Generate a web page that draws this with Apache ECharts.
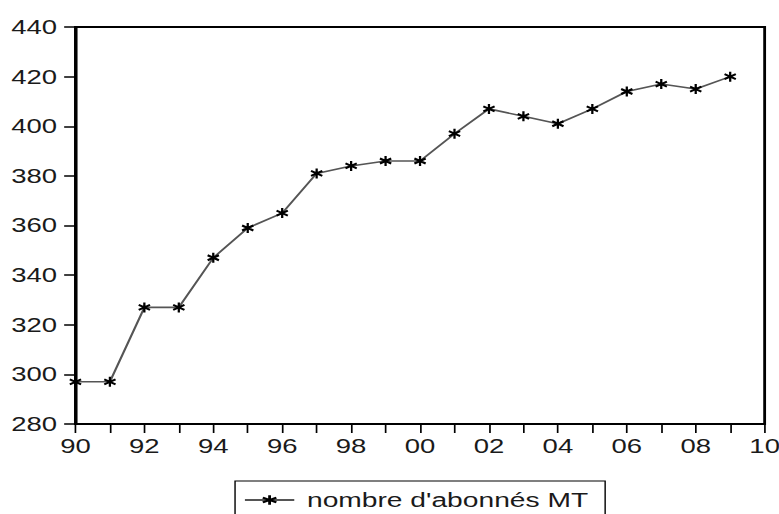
<!DOCTYPE html>
<html>
<head>
<meta charset="utf-8">
<script src="https://cdn.jsdelivr.net/npm/echarts@6/dist/echarts.min.js"></script>
<style>
html,body{margin:0;padding:0;background:#fff;overflow:hidden;width:779px;height:514px;}
#chart{width:560px;height:514px;transform:scaleX(1.41);transform-origin:0 0;}
</style>
</head>
<body>
<div id="chart"></div>
<script>
var years = [1990,1991,1992,1993,1994,1995,1996,1997,1998,1999,2000,2001,2002,2003,2004,2005,2006,2007,2008,2009];
var abonnes = [297,297,327,327,347,359,365,381,384,386,386,397,407,404,401,407,414,417,415,420];
var seriesName = "nombre d'abonnés MT";

var FONT = 'Liberation Sans, Arial, Helvetica, sans-serif';
var asterisk = 'path://M0,-5L0,5M-4.33,-2.5L4.33,2.5M-4.33,2.5L4.33,-2.5';
var chart = echarts.init(document.getElementById('chart'), null, {renderer: 'svg'});
chart.setOption({
  animation: false,
  backgroundColor: '#fff',
  grid: {left: 53.5, right: 17.7, top: 27, bottom: 90, show: true, borderColor: '#000', borderWidth: 2, backgroundColor: 'transparent'},
  legend: {
    data: [seriesName],
    left: 166.7, top: 481,
    borderColor: '#000', borderWidth: 1,
    padding: [9, 12, 20, 6],
    itemWidth: 35, itemHeight: 12,
    textStyle: {fontFamily: FONT, fontSize: 20, color: '#1a1a1a', padding: [0,0,0,4]}
  },
  xAxis: {
    type: 'value', min: 1990, max: 2010, interval: 1,
    axisLine: {show: true, lineStyle: {color: '#000', width: 2}},
    axisTick: {show: true, length: 9, lineStyle: {color: '#000', width: 1.2}},
    splitLine: {show: false},
    axisLabel: {
      margin: 12,
      fontFamily: FONT, fontSize: 19.5, color: '#1a1a1a',
      formatter: function (v) { return (v % 2 === 0) ? String(v % 100).padStart(2, '0') : ''; }
    }
  },
  yAxis: {
    type: 'value', min: 280, max: 440, interval: 20,
    axisLine: {show: true, lineStyle: {color: '#000', width: 2}},
    axisTick: {show: true, length: 8, lineStyle: {color: '#000', width: 1.5}},
    splitLine: {show: false},
    axisLabel: {margin: 13, fontFamily: FONT, fontSize: 19.5, color: '#1a1a1a'}
  },
  series: [{
    name: seriesName,
    type: 'line',
    data: years.map(function (y, i) { return [y, abonnes[i]]; }),
    lineStyle: {color: '#555', width: 1.6},
    symbol: asterisk,
    symbolSize: [8, 10],
    itemStyle: {color: '#000', borderColor: '#000', borderWidth: 1.8},
    clip: false
  }]
});
</script>
</body>
</html>
